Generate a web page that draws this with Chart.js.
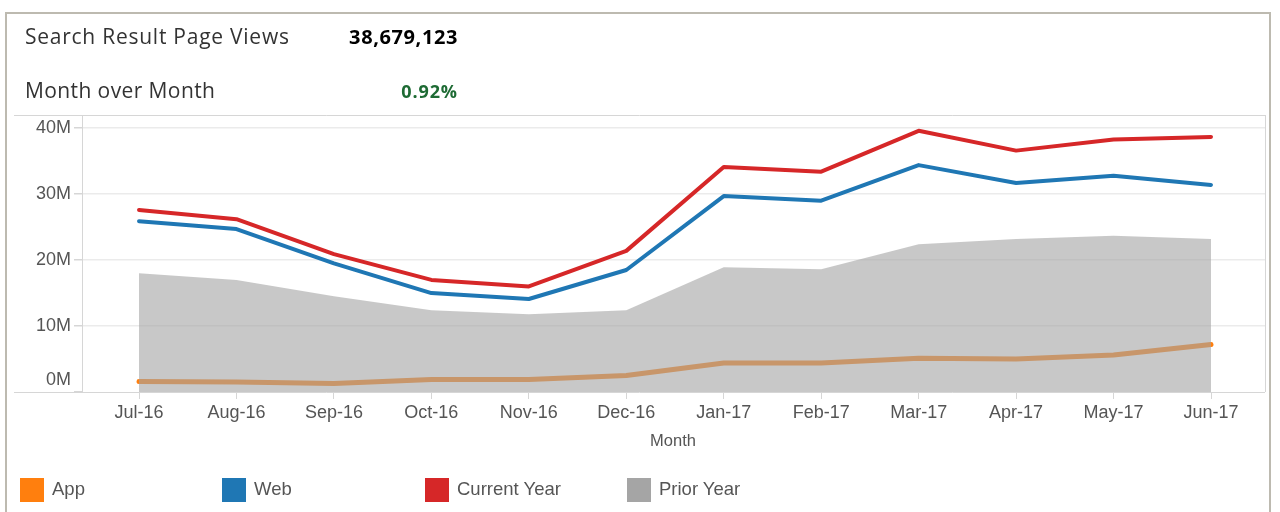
<!DOCTYPE html>
<html>
<head>
<meta charset="utf-8">
<script src="https://cdn.jsdelivr.net/npm/chart.js@4"></script>
<style>
  body { margin: 0; background: #fff; }
  #wrap { position: relative; width: 1280px; height: 512px; overflow: hidden; }
  #frame { position: absolute; left: 5px; top: 12px; width: 1266px; height: 520px;
           border: 2px solid #bdbab0; box-sizing: border-box; }
  canvas { position: absolute; left: 0; top: 0; }
  .hd { position: absolute; font-family: "Open Sans", sans-serif; font-size: 21px; color: #333; line-height: 1; }
  .num { position: absolute; font-family: "Open Sans", sans-serif; font-weight: bold; font-size: 20px; line-height: 1; text-align: right; }
  #xtitle { position: absolute; left: 573px; width: 200px; top: 431px; text-align: center;
            font-family: "Liberation Sans", Arial, sans-serif; font-size: 16.5px; color: #555; }
  .lg { position: absolute; top: 478px; font-family: "Liberation Sans", Arial, sans-serif; font-size: 18.5px; color: #555; }
  .lg span { display: inline-block; width: 24px; height: 24px; vertical-align: middle; margin-right: 8px; }
</style>
</head>
<body>
<div id="wrap">
  <div id="frame"></div>
  <canvas id="chart" width="1280" height="512"></canvas>
  <div class="hd" style="left:25px; top:26px; letter-spacing:0.75px;">Search Result Page Views</div>
  <div class="num" style="left:258px; width:200px; top:27px; color:#000; letter-spacing:0.6px;">38,679,123</div>
  <div class="hd" style="left:25px; top:80px; letter-spacing:0.4px;">Month over Month</div>
  <div class="num" style="left:258px; width:200px; top:82px; font-size:18px; color:#1e6b34; letter-spacing:0.9px;">0.92%</div>
  <div id="xtitle">Month</div>
  <div class="lg" style="left:20px;"><span style="background:#ff7f0e"></span>App</div>
  <div class="lg" style="left:222px;"><span style="background:#1f77b4"></span>Web</div>
  <div class="lg" style="left:425px;"><span style="background:#d62728"></span>Current Year</div>
  <div class="lg" style="left:627px;"><span style="background:#a5a5a5"></span>Prior Year</div>
</div>
<script>
// ---------- data (millions) ----------
const months = ["Jul-16","Aug-16","Sep-16","Oct-16","Nov-16","Dec-16","Jan-17","Feb-17","Mar-17","Apr-17","May-17","Jun-17"];
const currentYear = [27.6, 26.2, 20.9, 17.0, 16.0, 21.4, 34.1, 33.4, 39.6, 36.6, 38.3, 38.68];
const web         = [25.9, 24.7, 19.5, 15.0, 14.1, 18.5, 29.7, 29.0, 34.4, 31.7, 32.8, 31.4];
const app         = [1.6, 1.5, 1.3, 1.9, 1.9, 2.5, 4.4, 4.4, 5.1, 5.0, 5.6, 7.2];
const priorYear   = [18.0, 17.0, 14.5, 12.4, 11.8, 12.4, 18.9, 18.6, 22.4, 23.2, 23.7, 23.2];
const yTicks = [0, 10, 20, 30, 40];

const pts = arr => arr.map((v, i) => ({ x: i, y: v }));

// ---------- frame + y labels ----------
const framePlugin = {
  id: "frame",
  afterDraw(chart) {
    const c = chart.ctx, a = chart.chartArea, y = chart.scales.y;
    c.save();
    c.strokeStyle = "#d6d6d6";
    c.lineWidth = 1;
    c.beginPath();
    c.moveTo(14, a.top + 0.5); c.lineTo(a.right, a.top + 0.5);
    c.moveTo(14, a.bottom + 0.5); c.lineTo(a.right, a.bottom + 0.5);
    c.moveTo(a.left + 0.5, a.top); c.lineTo(a.left + 0.5, a.bottom);
    c.moveTo(a.right + 0.5, a.top); c.lineTo(a.right + 0.5, a.bottom);
    c.stroke();
    c.fillStyle = "#555";
    c.font = "18px 'Liberation Sans', Arial, sans-serif";
    c.textAlign = "right";
    c.textBaseline = "middle";
    yTicks.forEach(v => {
      let py = y.getPixelForValue(v);
      if (v === 0) py -= 12;
      c.fillText(v + "M", 71, py);
    });
    c.restore();
  }
};

const line = (label, data, color, width, order) => ({
  label, data: pts(data), order,
  borderColor: color, backgroundColor: color,
  borderWidth: width, pointRadius: 0, tension: 0,
  borderCapStyle: "round", borderJoinStyle: "round", fill: false
});

new Chart(document.getElementById("chart"), {
  type: "line",
  data: {
    datasets: [
      line("Current Year", currentYear, "#d62728", 4, 1),
      line("Web", web, "#1f77b4", 4, 2),
      {
        label: "Prior Year", data: pts(priorYear), order: 3,
        backgroundColor: "rgba(165,165,165,0.61)", borderWidth: 0,
        pointRadius: 0, tension: 0, fill: "origin"
      },
      line("App", app, "#ff7f0e", 5, 4)
    ]
  },
  plugins: [framePlugin],
  options: {
    responsive: false,
    animation: false,
    layout: { padding: { left: 14, right: 15, top: 115, bottom: 60 } },
    plugins: { legend: { display: false }, tooltip: { enabled: false } },
    scales: {
      x: {
        type: "linear",
        min: -0.585, max: 11.554,
        border: { display: false },
        grid: { drawOnChartArea: false, drawTicks: true, tickLength: 7, tickColor: "#d6d6d6" },
        ticks: { color: "#555", font: { family: "'Liberation Sans', Arial, sans-serif", size: 18 }, padding: 3,
                 maxRotation: 0, autoSkip: false, callback: v => months[v] },
        afterBuildTicks(s) { s.ticks = months.map((m, i) => ({ value: i })); },
        afterFit(s) { s.height = 60; }
      },
      y: {
        min: 0, max: 42,
        border: { display: false },
        grid: { color: c => c.tick.value === 0 ? "rgba(0,0,0,0)" : "#ebebeb", lineWidth: 1.5,
                tickColor: "#d6d6d6", tickLength: 8 },
        ticks: { display: true, color: "rgba(0,0,0,0)", font: { size: 16 } },
        afterBuildTicks(s) { s.ticks = yTicks.map(v => ({ value: v })); },
        afterFit(s) { s.width = 68; }
      }
    }
  }
});
</script>
</body>
</html>
